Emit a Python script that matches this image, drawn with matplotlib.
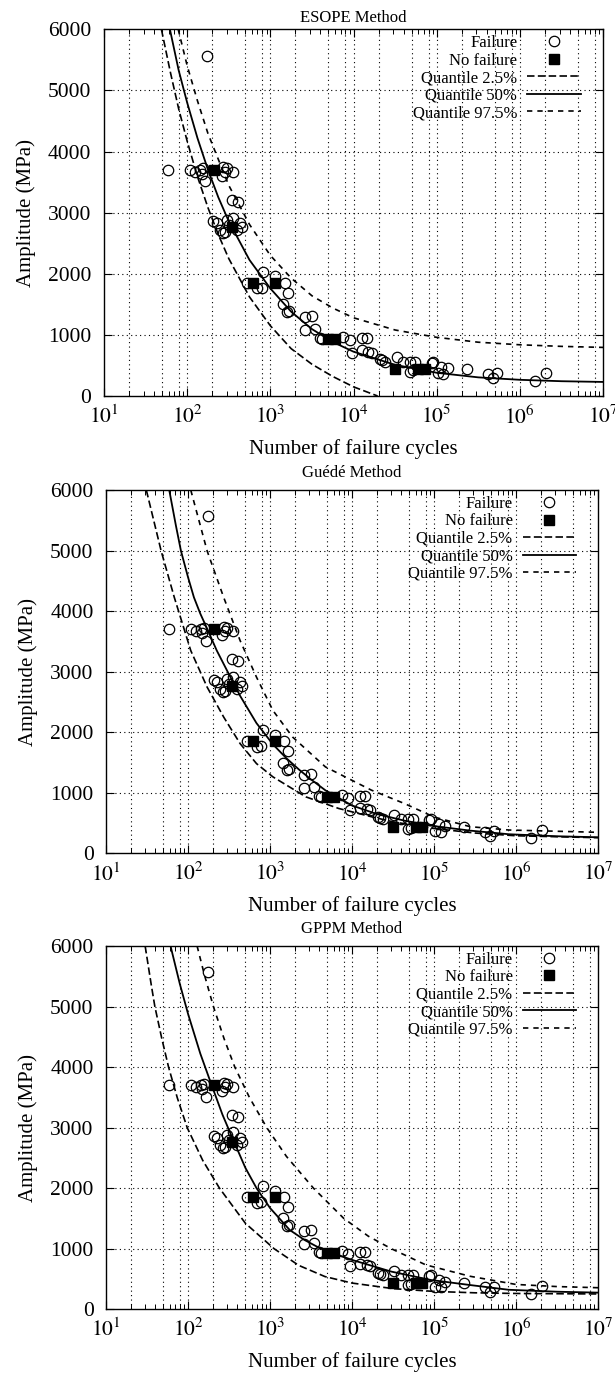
import matplotlib
matplotlib.use('Agg')
import matplotlib.pyplot as plt

plt.rcParams['font.family'] = ['Liberation Serif', 'DejaVu Serif']
plt.rcParams['mathtext.fontset'] = 'stix'

# test data (same in every panel)
fail_N = [59, 108, 124, 143, 156, 164, 175, 150, 260, 272, 285, 299, 352,
          343, 404,
          206, 226, 248, 270, 285, 298, 320, 358, 393, 431, 452,
          519, 684, 785, 822, 1135, 1497, 1641, 1429, 1600, 1700, 2606, 3133, 2606, 3436, 4140,
          3950, 7520, 9050, 12500, 14360, 9480, 12500, 15030, 16480, 20750, 22000, 23800,
          32900, 39600, 47600, 54700, 52300, 48000, 86700, 90800, 104000, 114000, 120000,
          137000, 229000, 416000, 478000, 535000, 1514000, 2055000]
fail_S = [3700, 3700, 3670, 3700, 3725, 3510, 5570, 3640, 3600, 3740, 3670, 3725, 3670,
          3210, 3180,
          2870, 2825, 2716, 2660, 2688, 2880, 2800, 2920, 2720, 2825, 2770,
          1854, 1762, 1770, 2030, 1960, 1854, 1690, 1500, 1380, 1390, 1297, 1309, 1080, 1091, 927,
          944, 970, 916, 944, 944, 710, 753, 725, 709, 600, 590, 561,
          633, 561, 561, 560, 425, 400, 545, 560, 371, 480, 360,
          453, 437, 360, 290, 371, 250, 381]
nofail_N = [209, 343, 624, 1135, 4970, 5970, 31600, 60000, 72100]
nofail_S = [3700, 2760, 1854, 1854, 925, 925, 440, 437, 437]

# quantile curves
esope_lo_N = [49, 63, 79, 100, 133, 178, 237, 316, 562, 1000, 1778, 3162, 5623, 10000, 19500]
esope_lo_S = [6000, 5290, 4700, 4170, 3590, 3080, 2640, 2250, 1620, 1150, 775, 520, 320, 150, 0]
esope_med_N = [62, 79, 100, 133, 178, 237, 316, 562, 1000, 1778, 3162, 5623, 10000,
               31623, 1e5, 316228, 1e6, 3.16e6, 1e7]
esope_med_S = [6000, 5330, 4800, 4220, 3700, 3250, 2860, 2225, 1760, 1380, 1095, 885, 725,
               510, 380, 305, 265, 242, 230]
esope_hi_N = [78, 100, 133, 178, 316, 562, 1000, 1778, 3162, 5623, 10000, 31623, 1e5,
              316228, 1e6, 3.16e6, 1e7]
esope_hi_S = [6000, 5405, 4830, 4293, 3448, 2806, 2300, 1930, 1640, 1440, 1280, 1080, 960,
              880, 838, 812, 795]

guede_lo_N = [31, 47, 68, 108, 171, 272, 432, 684, 1084, 2729, 6871, 17260, 31623, 1e5,
              316228, 1e6, 1e7]
guede_lo_S = [6000, 4995, 4228, 3348, 2745, 2251, 1812, 1482, 1263, 933, 741, 604, 520, 410,
              335, 290, 258]
guede_med_N = [59, 71, 82, 100, 118, 141, 171, 224, 299, 432, 684, 1084, 1585, 2270, 3162,
               4742, 10000, 19953, 43451, 1e5, 275423, 820352, 3.16e6, 1e7]
guede_med_S = [6000, 5420, 4995, 4560, 4228, 3960, 3710, 3350, 3019, 2600, 2150, 1800, 1570,
               1380, 1220, 1040, 790, 650, 540, 450, 375, 315, 282, 265]
guede_hi_N = [108, 171, 272, 432, 684, 1084, 1884, 4742, 17260, 43451, 1e5, 275423, 820352,
              1e7]
guede_hi_S = [6000, 4995, 4228, 3513, 2910, 2360, 1921, 1427, 1043, 823, 600, 440, 385, 347]

gppm_lo_N = [30, 35.5, 39.4, 47.9, 57.9, 74.1, 97.7, 151, 242, 501, 1122, 2239, 4677, 10000,
             31623, 1e5, 316228, 1e6, 1e7]
gppm_lo_S = [6000, 5370, 5000, 4470, 4000, 3490, 3000, 2460, 2000, 1420, 1000, 725, 540, 433,
             341, 295, 272, 261, 253]
gppm_med_N = [61.2, 79.4, 100, 141, 195, 263, 355, 501, 685, 1000, 1738, 2630, 4169, 10000,
              30200, 91201, 269153, 812831, 3.16e6, 1e7]
gppm_med_S = [6000, 5375, 4880, 4225, 3694, 3215, 2800, 2335, 2000, 1673, 1310, 1145, 1000,
              815, 622, 484, 402, 322, 290, 275]
gppm_hi_N = [129, 158, 204, 275, 372, 562, 912, 1585, 3388, 7943, 15849, 30200, 79433,
             275423, 1e6, 3.16e6, 1e7]
gppm_hi_S = [6000, 5530, 5000, 4470, 4000, 3496, 3000, 2525, 2000, 1500, 1206, 1000, 733,
             545, 410, 375, 356]

panels = [
    ('ESOPE Method', [0.1691, 0.7120, 0.8114, 0.2667], 5.5,
     (esope_lo_N, esope_lo_S), (esope_med_N, esope_med_S), (esope_hi_N, esope_hi_S)),
    ('Guédé Method', [0.1724, 0.3794, 0.8000, 0.2642], 9.5,
     (guede_lo_N, guede_lo_S), (guede_med_N, guede_med_S), (guede_hi_N, guede_hi_S)),
    ('GPPM Method', [0.1724, 0.0478, 0.8000, 0.2642], 9.5,
     (gppm_lo_N, gppm_lo_S), (gppm_med_N, gppm_med_S), (gppm_hi_N, gppm_hi_S)),
]

x_major = [10 ** k for k in range(1, 8)]
x_labels = [r'$10^{%d}$' % k for k in range(1, 8)]
y_major = [0, 1000, 2000, 3000, 4000, 5000, 6000]

fig = plt.figure(figsize=(6.15, 13.75), dpi=100)

for title, rect, tpad, lo, med, hi in panels:
    ax = fig.add_axes(rect)
    ax.set_xscale('log')
    ax.set_xlim(10, 1e7)
    ax.set_ylim(0, 6000)

    # gnuplot-like dotted grid: decades plus 2, 5, 8
    for k in range(1, 7):
        for m in (2, 5, 8, 10):
            xv = m * 10 ** k
            if xv < 1e7:
                ax.axvline(xv, color='black', lw=0.8, ls=(0, (1, 3)), zorder=0)
    for yv in y_major[1:-1]:
        ax.axhline(yv, color='black', lw=0.8, ls=(0, (1, 3)), zorder=0)

    ax.plot(fail_N, fail_S, 'o', ms=7.5, mfc='none', mec='black', mew=0.9,
            label='Failure', zorder=3)
    ax.plot(nofail_N, nofail_S, 's', ms=7.5, color='black', label='No failure', zorder=4)
    ax.plot(lo[0], lo[1], color='black', lw=1.2, dashes=(4.5, 2), label='Quantile 2.5%',
            zorder=2)
    ax.plot(med[0], med[1], color='black', lw=1.3, label='Quantile 50%', zorder=2)
    ax.plot(hi[0], hi[1], color='black', lw=1.2, dashes=(3.2, 3), label='Quantile 97.5%',
            zorder=2)

    ax.set_xticks(x_major)
    ax.set_xticklabels(x_labels)
    ax.set_yticks(y_major)
    ax.tick_params(which='both', direction='in', top=True, right=True, labelsize=15.5)
    ax.tick_params(which='major', length=6, width=0.8)
    ax.tick_params(which='minor', length=3.5, width=0.7)
    ax.tick_params(axis='y', which='major', pad=9)
    ax.tick_params(axis='x', which='major', pad=7)
    for sp in ax.spines.values():
        sp.set_linewidth(1.0)

    ax.set_title(title, fontsize=12, pad=tpad)
    ax.set_xlabel('Number of failure cycles', fontsize=15, labelpad=7)
    ax.set_ylabel('Amplitude (MPa)', fontsize=15, labelpad=9)

    ax.legend(loc='upper right', bbox_to_anchor=(0.955, 0.984), frameon=False,
              markerfirst=False, fontsize=12, handlelength=3.2, handletextpad=0.6,
              labelspacing=0.09, borderaxespad=0, borderpad=0)

fig.savefig('out.png', dpi=100)
